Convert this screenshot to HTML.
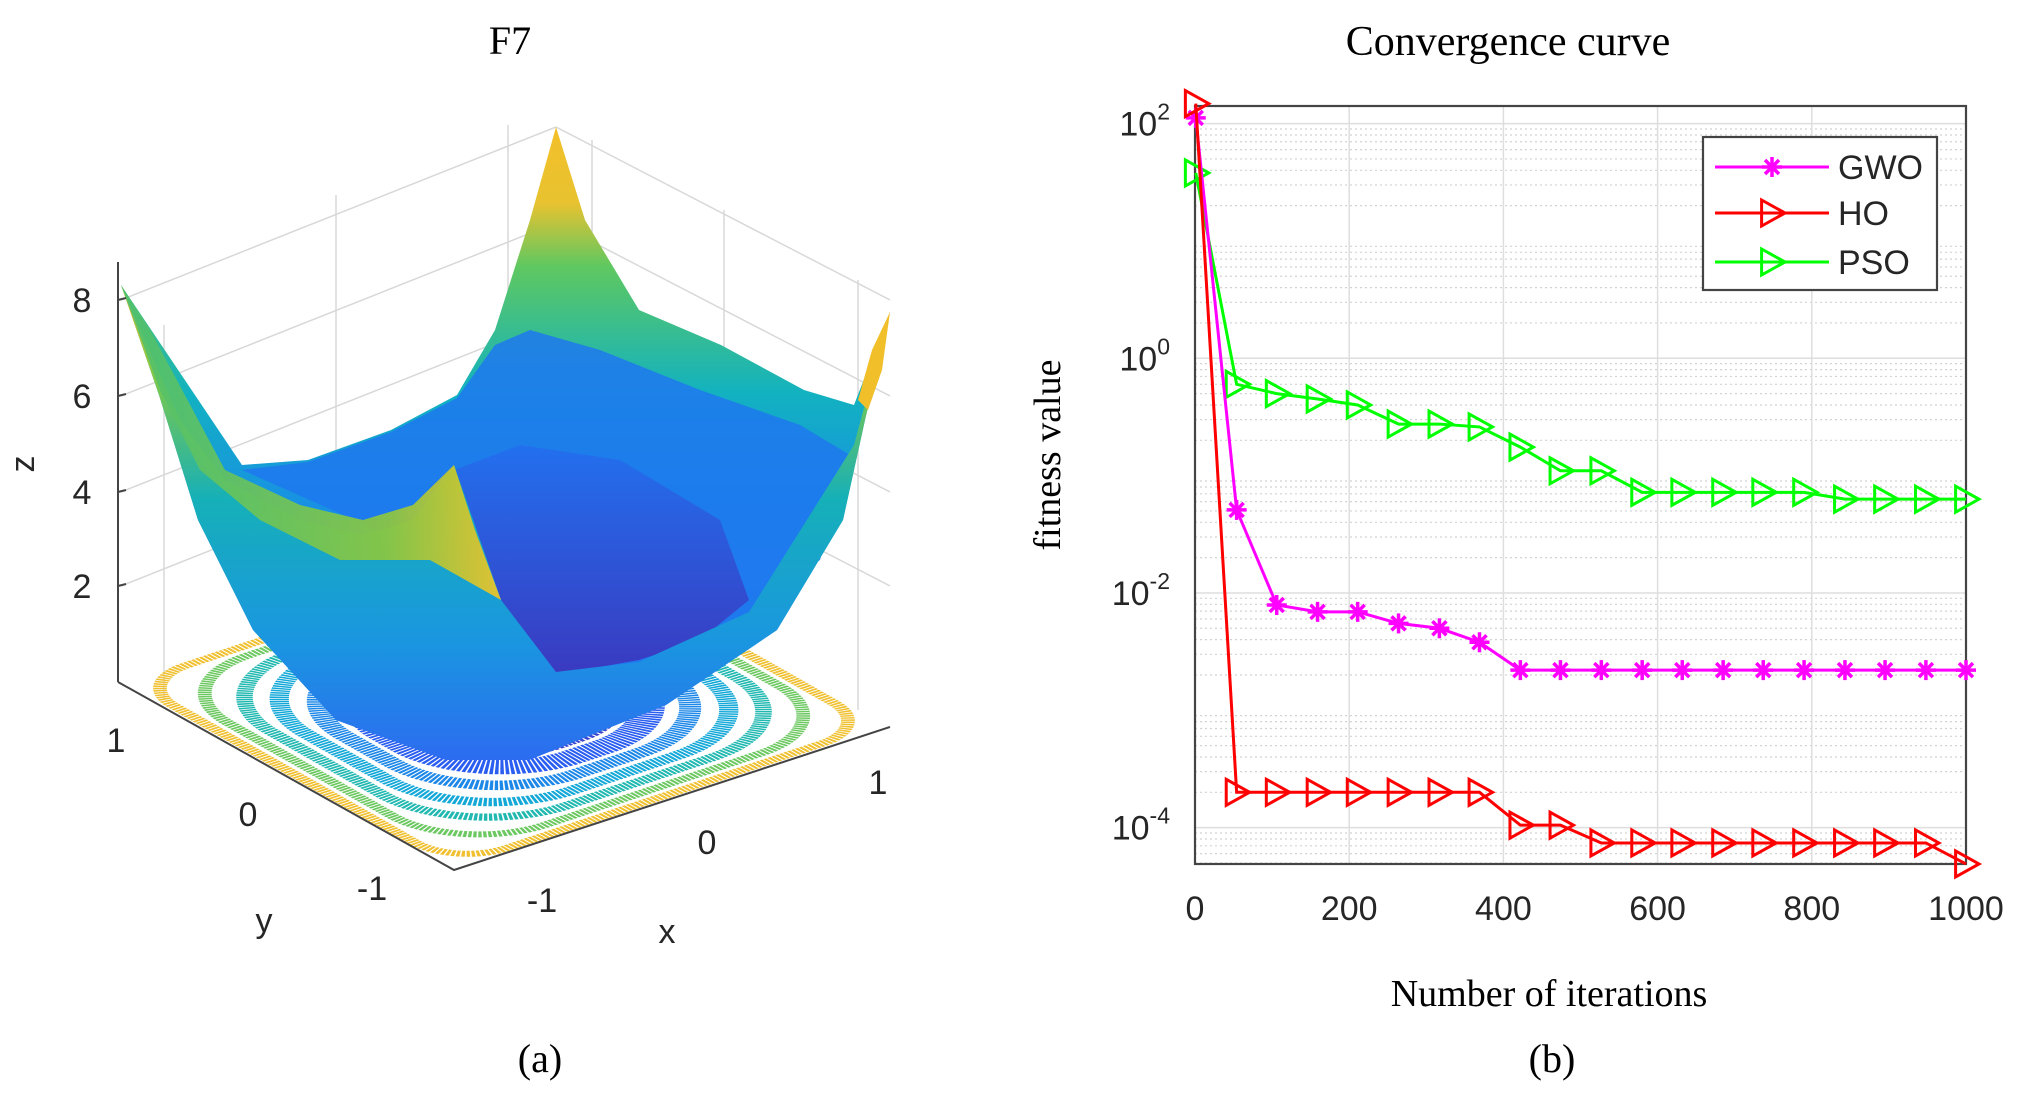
<!DOCTYPE html>
<html><head><meta charset="utf-8"><style>
html,body{margin:0;padding:0;background:#fff;}
svg{display:block;}
.sans{font-family:"Liberation Sans",sans-serif;}
.serif{font-family:"Liberation Serif",serif;}
</style></head><body>
<svg id="fig" width="2026" height="1104" viewBox="0 0 2026 1104" xmlns="http://www.w3.org/2000/svg">
<defs>
<linearGradient id="gFront" x1="0" y1="0" x2="0" y2="1">
<stop offset="0" stop-color="#f5c02a"/><stop offset="0.2" stop-color="#7cc84a"/><stop offset="0.45" stop-color="#16b0b8"/><stop offset="0.75" stop-color="#1a96e0"/><stop offset="1" stop-color="#2c6cf0"/></linearGradient>
<linearGradient id="gBack" x1="0" y1="0" x2="0" y2="1">
<stop offset="0" stop-color="#f3c02a"/><stop offset="0.12" stop-color="#e8c230"/><stop offset="0.22" stop-color="#5fc860"/><stop offset="0.42" stop-color="#12b2c0"/><stop offset="0.6" stop-color="#1890e4"/><stop offset="1" stop-color="#2a6af2"/></linearGradient>
<linearGradient id="gDark" x1="0" y1="0" x2="0" y2="1">
<stop offset="0" stop-color="#2270ee"/><stop offset="1" stop-color="#3a3ac0"/></linearGradient>
<linearGradient id="gRidge" x1="0" y1="0" x2="1" y2="0">
<stop offset="0" stop-color="#4cc070"/><stop offset="0.7" stop-color="#8fc83c"/><stop offset="1" stop-color="#f5c522"/></linearGradient>
<clipPath id="floorClip"><polygon points="118,682 454,870 890,727 555,537"/></clipPath>
</defs>

<g>
<text class="serif" x="510" y="54" font-size="40" text-anchor="middle">F7</text>
<g stroke="#d8d8d8" stroke-width="1.5" fill="none">
<line x1="121" y1="300" x2="556" y2="127"/><line x1="121" y1="396" x2="556" y2="223"/><line x1="121" y1="492" x2="556" y2="319"/><line x1="121" y1="586" x2="556" y2="413"/>
<line x1="556" y1="127" x2="890" y2="300"/><line x1="556" y1="223" x2="890" y2="396"/><line x1="556" y1="319" x2="890" y2="492"/><line x1="556" y1="413" x2="890" y2="586"/>
<line x1="164" y1="325" x2="164" y2="700"/><line x1="336" y1="195" x2="336" y2="610"/><line x1="508" y1="125" x2="508" y2="540"/><line x1="592" y1="140" x2="592" y2="560"/><line x1="724" y1="210" x2="724" y2="630"/><line x1="858" y1="280" x2="858" y2="710"/>
</g>
<g clip-path="url(#floorClip)">
<g transform="matrix(-437 145 335 190 555 537)" fill="none" stroke-dasharray="0.006 0.003">
<rect x="0.02" y="0.02" width="0.96" height="0.96" rx="0.12" stroke="#f0c030" stroke-width="0.025"/>
<rect x="0.055" y="0.055" width="0.89" height="0.89" rx="0.2" stroke="#6cc860" stroke-width="0.025"/>
<rect x="0.095" y="0.095" width="0.81" height="0.81" rx="0.24" stroke="#20b8b0" stroke-width="0.03"/>
<rect x="0.14" y="0.14" width="0.72" height="0.72" rx="0.24" stroke="#14a8d8" stroke-width="0.035"/>
<rect x="0.19" y="0.19" width="0.62" height="0.62" rx="0.24" stroke="#1e88e8" stroke-width="0.04"/>
<rect x="0.25" y="0.25" width="0.5" height="0.5" rx="0.22" stroke="#2a5ef0" stroke-width="0.06"/>
<rect x="0.34" y="0.34" width="0.32" height="0.32" rx="0.14" fill="#3a44d0" fill-opacity="0.8" stroke="#3a44d0" stroke-width="0.1"/>
</g></g>
<polyline points="118,682 454,870 890,727" fill="none" stroke="#444" stroke-width="2"/>
<polygon fill="url(#gBack)" points="121,285 242,465 308,460 391,430 457,395 495,330 530,220 556,127 585,220 639,310 721,345 804,390 854,405 890,312 865,420 843,520 777,630 666,705 529,760 446,760 336,720 253,630 198,520 159,395"/>
<polygon fill="#1f78ee" opacity="0.85" points="242,470 308,462 391,432 457,398 495,345 530,330 600,350 700,390 800,425 850,455 820,560 700,650 560,680 454,600 400,540"/>
<polygon fill="url(#gDark)" points="454,470 520,445 620,460 720,520 749,600 700,640 639,660 556,675 501,600"/>
<polygon fill="url(#gFront)" points="121,285 180,420 225,480 300,520 363,535 413,520 454,465 501,600 556,672 639,662 749,612 854,445 890,312 865,420 843,520 777,630 666,705 529,760 446,760 336,720 253,630 198,520 159,395"/>
<polygon fill="url(#gRidge)" opacity="0.9" points="121,285 150,330 225,470 300,505 363,520 413,505 454,465 475,530 501,600 430,560 340,560 260,520 200,470 160,390"/>
<polygon fill="#f1bf2a" points="890,312 882,370 868,410 858,400 872,350"/>
<line x1="118" y1="262" x2="118" y2="682" stroke="#444" stroke-width="2"/>
<g class="sans" font-size="34" fill="#262626" text-anchor="middle">
<g stroke="#444" stroke-width="2"><line x1="118" y1="300" x2="126" y2="298"/><line x1="118" y1="396" x2="126" y2="394"/><line x1="118" y1="492" x2="126" y2="490"/><line x1="118" y1="586" x2="126" y2="584"/></g>
<text x="82" y="312">8</text>
<text x="82" y="408">6</text>
<text x="82" y="504">4</text>
<text x="82" y="598">2</text>
<text x="40" y="470" transform="rotate(-90 34 470)">z</text>
<text x="116" y="752">1</text>
<text x="248" y="826">0</text>
<text x="372" y="900">-1</text>
<text x="264" y="932">y</text>
<text x="542" y="912">-1</text>
<text x="707" y="854">0</text>
<text x="878" y="794">1</text>
<text x="667" y="943">x</text>
</g>
<text class="serif" x="540" y="1072" font-size="40" text-anchor="middle">(a)</text>
</g>

<g id="conv">
<text class="serif" x="1508" y="55" font-size="42" text-anchor="middle">Convergence curve</text>
<text class="serif" x="1552" y="1072" font-size="40" text-anchor="middle">(b)</text>
<text class="serif" x="1549" y="1006" font-size="38" text-anchor="middle">Number of iterations</text>
<text class="serif" x="1060" y="455" font-size="38" text-anchor="middle" transform="rotate(-90 1060 455)">fitness value</text>
</g>
</svg>
<script>
const iterations=[1,54,106,159,211,264,317,369,422,474,527,580,632,685,737,790,843,895,948,1000];
const gwoValues=[112,0.051,0.0079,0.0069,0.0069,0.0055,0.005,0.0038,0.0022,0.0022,0.0022,0.0022,0.0022,0.0022,0.0022,0.0022,0.0022,0.0022,0.0022,0.0022];
const hoValues=[148,2e-4,2e-4,2e-4,2e-4,2e-4,2e-4,2e-4,1.05e-4,1.05e-4,7.4e-5,7.4e-5,7.4e-5,7.4e-5,7.4e-5,7.4e-5,7.4e-5,7.4e-5,7.4e-5,4.9e-5];
const psoValues=[38,0.6,0.5,0.45,0.4,0.275,0.275,0.26,0.175,0.11,0.11,0.072,0.072,0.072,0.072,0.072,0.063,0.063,0.063,0.063];
const xTicks=[0,200,400,600,800,1000];
const yTickExps=[2,0,-2,-4];
const xMin=0,xMax=1000,logMax=2.15,logMin=-4.31;
const L=1195,R=1966,T=106,B=864;
const NS='http://www.w3.org/2000/svg';
const g=document.getElementById('conv');
function X(v){return L+(v-xMin)/(xMax-xMin)*(R-L);}
function Y(v){return T+(logMax-Math.log10(v))/(logMax-logMin)*(B-T);}
function mk(tag,attrs,parent){const e=document.createElementNS(NS,tag);for(const k in attrs)e.setAttribute(k,attrs[k]);(parent||g).appendChild(e);return e;}
const bg=mk('rect',{x:L,y:T,width:R-L,height:B-T,fill:'#fff'});


for(let e=-5;e<=2;e++){for(let m=2;m<=9;m++){const v=m*Math.pow(10,e);const y=Y(v);if(y<T||y>B)continue;
const ln=mk('line',{x1:L,x2:R,y1:y,y2:y,stroke:'#d2d2d2','stroke-width':1.2,'stroke-dasharray':'2 3'});

}}
xTicks.forEach(t=>{const x=X(t);const ln=mk('line',{x1:x,x2:x,y1:T,y2:B,stroke:'#dedede','stroke-width':1.5});


const tk=mk('text',{x:x,y:920,'font-size':34,'text-anchor':'middle',fill:'#262626',class:'sans'});tk.textContent=t;

});
yTickExps.forEach(e=>{const y=Y(Math.pow(10,e));const ln=mk('line',{x1:L,x2:R,y1:y,y2:y,stroke:'#dedede','stroke-width':1.5});


const tk=mk('text',{x:1170,y:y+12,'font-size':34,'text-anchor':'end',fill:'#262626',class:'sans'});
tk.textContent='10';const sp=mk('tspan',{dy:-16,'font-size':23},tk);sp.textContent=e;

});
const frame=mk('rect',{x:L,y:T,width:R-L,height:B-T,fill:'none',stroke:'#444','stroke-width':2.2});


function tri(x,y,c){const s=13;return mk('polygon',{points:`${x-s*0.8},${y-s} ${x+s},${y} ${x-s*0.8},${y+s}`,fill:'none',stroke:c,'stroke-width':3});}
function star(x,y,c){const gg=mk('g',{stroke:c,'stroke-width':3.5});const s=10;
mk('line',{x1:x-s,y1:y,x2:x+s,y2:y},gg);mk('line',{x1:x,y1:y-s,x2:x,y2:y+s},gg);
mk('line',{x1:x-s*0.7,y1:y-s*0.7,x2:x+s*0.7,y2:y+s*0.7},gg);mk('line',{x1:x-s*0.7,y1:y+s*0.7,x2:x+s*0.7,y2:y-s*0.7},gg);return gg;}
function series(vals,color,marker,name){
const pts=vals.map((v,i)=>X(iterations[i])+','+Y(v)).join(' ');
const pl=mk('polyline',{points:pts,fill:'none',stroke:color,'stroke-width':3});


vals.forEach((v,i)=>{const m=marker(X(iterations[i]),Y(v),color);

});}
series(psoValues,'#00ff00',tri,'pso');
series(gwoValues,'#ff00ff',star,'gwo');
series(hoValues,'#ff0000',tri,'ho');
const lg=mk('g',{});


mk('rect',{x:1703,y:137,width:234,height:153,fill:'#fff',stroke:'#444','stroke-width':2.2},lg);
const entries=[['GWO','#ff00ff',star,167],['HO','#ff0000',tri,213],['PSO','#00ff00',tri,262]];
entries.forEach(en=>{const eg=mk('g',{},lg);


mk('line',{x1:1715,x2:1829,y1:en[3],y2:en[3],stroke:en[1],'stroke-width':3},eg);
eg.appendChild(en[2](1772,en[3],en[1]));
const t=mk('text',{x:1838,y:en[3]+12,'font-size':34,fill:'#262626',class:'sans'},eg);t.textContent=en[0];});
</script>
</body></html>
